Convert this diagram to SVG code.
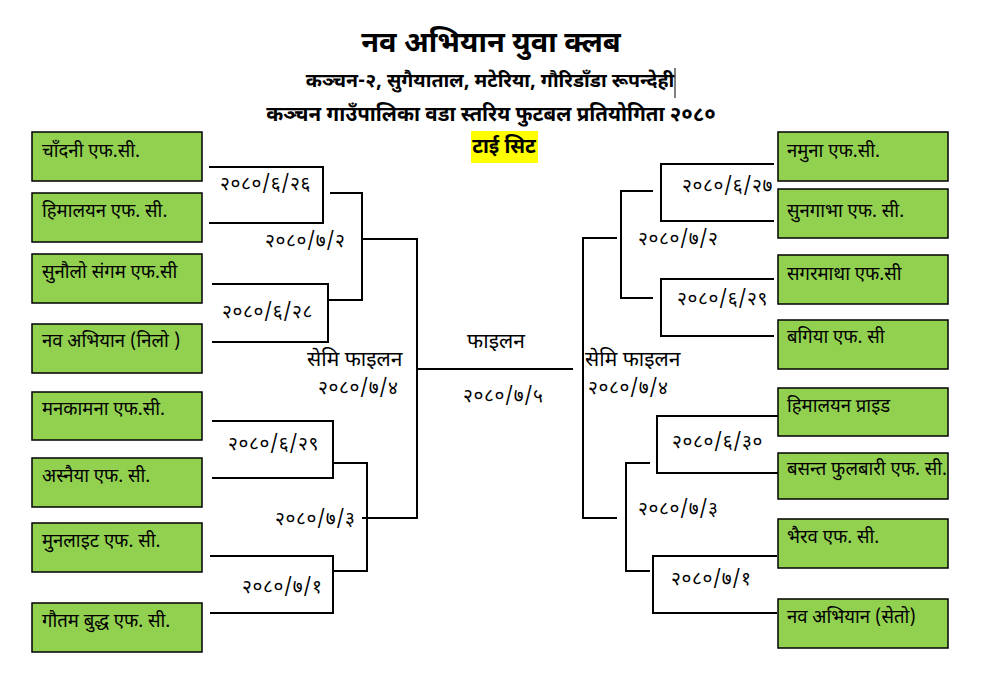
<svg xmlns="http://www.w3.org/2000/svg" width="986" height="694" viewBox="0 0 986 694">
<style>
.box{fill:#92D050;stroke:#000;stroke-width:1.5}
.lbl{font-family:"Noto Sans Devanagari","Noto Sans",sans-serif;font-size:18.5px;fill:#000}
.sf{font-family:"Noto Sans Devanagari","Noto Sans",sans-serif;font-size:21px;fill:#000}
.dt{font-family:"Noto Sans Devanagari","Noto Sans",sans-serif;font-size:19px;letter-spacing:0.6px;fill:#000}
.ln{fill:none;stroke:#000;stroke-width:2}
.t{font-family:"Noto Sans Devanagari","Noto Sans",sans-serif;fill:#000;text-anchor:middle}
</style>
<rect width="986" height="694" fill="#fff"/>
<g id="title">
<text class="t" x="491" y="52" font-size="29" font-weight="bold">नव अभियान युवा क्लब</text>
<text class="t" x="490" y="87" font-size="19.5" font-weight="bold">कञ्चन-२, सुगैयाताल, मटेरिया, गौरिडाँडा रूपन्देही</text>
<line x1="675" y1="68" x2="675" y2="98" stroke="#000" stroke-width="1"/>
<text class="t" x="491" y="121" font-size="20.5" font-weight="bold">कञ्चन गाउँपालिका वडा स्तरिय फुटबल प्रतियोगिता २०८०</text>
<rect x="471" y="131" width="67" height="32" fill="#FFFF00"/>
<text class="t" x="504" y="153" font-size="20" font-weight="bold">टाई सिट</text>
</g>
<g id="connectors">
<path class="ln" d="M209 167H323V223H209"/>
<path class="ln" d="M330 193H362V300H327"/>
<path class="ln" d="M212 284H328V342H212"/>
<path class="ln" d="M362 239H417V518H362"/>
<path class="ln" d="M212 421H333V478H212"/>
<path class="ln" d="M333 463H367V571H333"/>
<path class="ln" d="M210 556H333V613H210"/>
<path class="ln" d="M417 369H573"/>
<path class="ln" d="M774 164H661V221H774"/>
<path class="ln" d="M653 191H621V298H653"/>
<path class="ln" d="M774 279H661V336H774"/>
<path class="ln" d="M617 238H583V518H617"/>
<path class="ln" d="M778 416H657V473H778"/>
<path class="ln" d="M650 463H626V571H650"/>
<path class="ln" d="M777 556H653V613H777"/>
</g>
<g id="dates">
<text class="dt" x="220" y="190">२०८०/६/२६</text>
<text class="dt" x="265" y="247">२०८०/७/२</text>
<text class="dt" x="222" y="318">२०८०/६/२८</text>
<text class="dt" x="228" y="450">२०८०/६/२९</text>
<text class="dt" x="275" y="525">२०८०/७/३</text>
<text class="dt" x="242" y="593">२०८०/७/१</text>
<text class="sf" x="307" y="366">सेमि फाइलन</text>
<text class="dt" x="318" y="394">२०८०/७/४</text>
<text class="sf" x="467" y="348">फाइलन</text>
<text class="dt" x="463" y="402">२०८०/७/५</text>
<text class="sf" x="585" y="366">सेमि फाइलन</text>
<text class="dt" x="588" y="394">२०८०/७/४</text>
<text class="dt" x="682" y="192">२०८०/६/२७</text>
<text class="dt" x="638" y="245">२०८०/७/२</text>
<text class="dt" x="677" y="305">२०८०/६/२९</text>
<text class="dt" x="672" y="448">२०८०/६/३०</text>
<text class="dt" x="638" y="515">२०८०/७/३</text>
<text class="dt" x="671" y="585">२०८०/७/१</text>
</g>
<g id="L1"><rect class="box" x="32" y="132" width="170" height="49"/><text class="lbl" x="42" y="157">चाँदनी एफ.सी.</text></g>
<g id="L2"><rect class="box" x="32" y="193" width="170" height="49"/><text class="lbl" x="42" y="217">हिमालयन एफ. सी.</text></g>
<g id="L3"><rect class="box" x="32" y="254" width="170" height="49"/><text class="lbl" x="42" y="278">सुनौलो संगम एफ.सी</text></g>
<g id="L4"><rect class="box" x="32" y="324" width="170" height="49"/><text class="lbl" x="42" y="347">नव अभियान (निलो )</text></g>
<g id="L5"><rect class="box" x="32" y="392" width="170" height="48"/><text class="lbl" x="42" y="415">मनकामना एफ.सी.</text></g>
<g id="L6"><rect class="box" x="32" y="458" width="170" height="49"/><text class="lbl" x="42" y="482">अस्नैया एफ. सी.</text></g>
<g id="L7"><rect class="box" x="32" y="523" width="170" height="49"/><text class="lbl" x="42" y="547">मुनलाइट एफ. सी.</text></g>
<g id="L8"><rect class="box" x="32" y="603" width="170" height="49"/><text class="lbl" x="42" y="627">गौतम बुद्ध एफ. सी.</text></g>
<g id="R1"><rect class="box" x="778" y="132" width="170" height="49"/><text class="lbl" x="787" y="157">नमुना एफ.सी.</text></g>
<g id="R2"><rect class="box" x="778" y="189" width="170" height="49"/><text class="lbl" x="787" y="217">सुनगाभा एफ. सी.</text></g>
<g id="R3"><rect class="box" x="778" y="255" width="170" height="49"/><text class="lbl" x="787" y="280">सगरमाथा एफ.सी</text></g>
<g id="R4"><rect class="box" x="778" y="320" width="170" height="49"/><text class="lbl" x="787" y="343">बगिया एफ. सी</text></g>
<g id="R5"><rect class="box" x="778" y="388" width="170" height="48"/><text class="lbl" x="787" y="412">हिमालयन प्राइड</text></g>
<g id="R6"><rect class="box" x="778" y="453" width="170" height="46"/><text class="lbl" x="787" y="475">बसन्त फुलबारी एफ. सी.</text></g>
<g id="R7"><rect class="box" x="778" y="519" width="170" height="49"/><text class="lbl" x="787" y="543">भैरव एफ. सी.</text></g>
<g id="R8"><rect class="box" x="778" y="599" width="170" height="49"/><text class="lbl" x="787" y="623">नव अभियान (सेतो)</text></g>
</svg>
